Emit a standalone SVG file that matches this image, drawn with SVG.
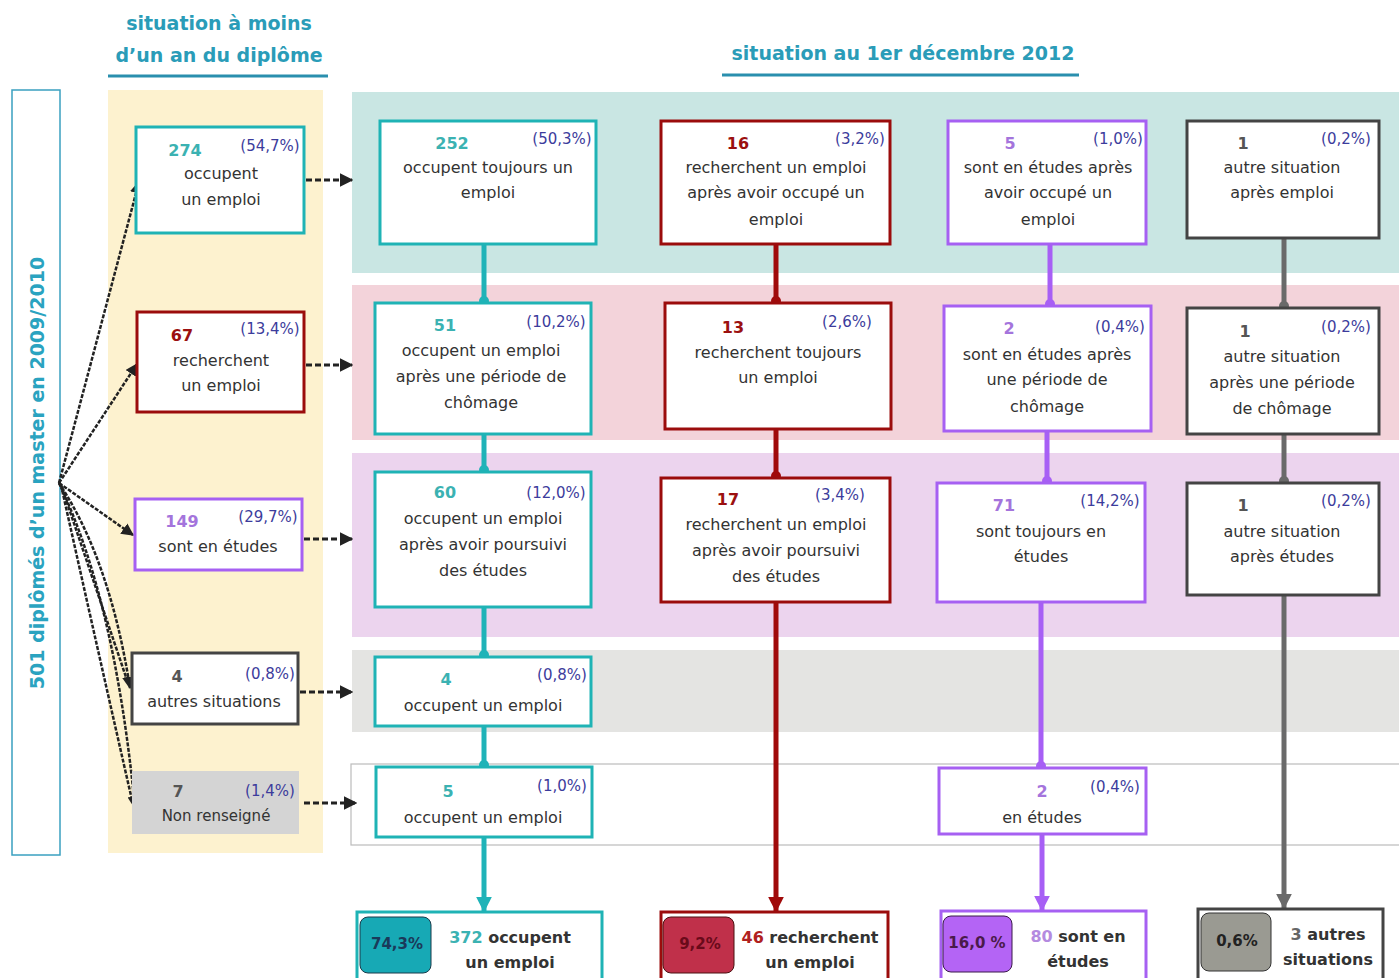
<svg xmlns="http://www.w3.org/2000/svg" width="1399" height="978" viewBox="0 0 1399 978">
<defs>
<style>
text{font-family:"DejaVu Sans","Liberation Sans",sans-serif;}
.hd{font-size:19px;font-weight:bold;fill:#2a9cb8;text-anchor:middle;}
.t{font-size:16px;fill:#333;text-anchor:middle;}
.p{font-size:15px;fill:#3c3c9c;text-anchor:middle;}
.nt{font-size:16px;font-weight:bold;fill:#3bb2b2;text-anchor:middle;}
.nr{font-size:16px;font-weight:bold;fill:#9b1010;text-anchor:middle;}
.np{font-size:16px;font-weight:bold;fill:#a474dc;text-anchor:middle;}
.ng{font-size:16px;font-weight:bold;fill:#555;text-anchor:middle;}
.bt{font-size:16px;font-weight:bold;fill:#333;text-anchor:middle;}
.bx{fill:#fff;stroke-width:3;}
.teal{stroke:#1fb3b5;}
.red{stroke:#9b0c0c;}
.pur{stroke:#a660f2;}
.gry{stroke:#444;}
.cT{stroke:#1fb3b8;stroke-width:5;fill:none;}
.cR{stroke:#a00a0a;stroke-width:5;fill:none;}
.cP{stroke:#a75ff5;stroke-width:5;fill:none;}
.cG{stroke:#6a6a6a;stroke-width:5;fill:none;}
.fan{stroke:#222;stroke-width:2.5;stroke-dasharray:4 1.5;fill:none;}
.dsh{stroke:#222;stroke-width:3;stroke-dasharray:6 3;fill:none;}
</style>
<marker id="ah" viewBox="0 0 10 10" refX="9" refY="5" markerWidth="5" markerHeight="5" orient="auto"><path d="M0,0 L10,5 L0,10 z" fill="#222"/></marker>
<marker id="ahs" viewBox="0 0 10 10" refX="9" refY="5" markerWidth="4.5" markerHeight="4.5" orient="auto"><path d="M0,0 L10,5 L0,10 z" fill="#222"/></marker>
<marker id="aT" viewBox="0 0 10 10" refX="9" refY="5" markerWidth="3.2" markerHeight="3.2" orient="auto"><path d="M0,0 L10,5 L0,10 z" fill="#1fb3b8"/></marker>
<marker id="aR" viewBox="0 0 10 10" refX="9" refY="5" markerWidth="3.2" markerHeight="3.2" orient="auto"><path d="M0,0 L10,5 L0,10 z" fill="#a00a0a"/></marker>
<marker id="aP" viewBox="0 0 10 10" refX="9" refY="5" markerWidth="3.2" markerHeight="3.2" orient="auto"><path d="M0,0 L10,5 L0,10 z" fill="#a75ff5"/></marker>
<marker id="aG" viewBox="0 0 10 10" refX="9" refY="5" markerWidth="3.2" markerHeight="3.2" orient="auto"><path d="M0,0 L10,5 L0,10 z" fill="#6a6a6a"/></marker>
<marker id="dT" viewBox="0 0 10 10" refX="5" refY="5" markerWidth="2" markerHeight="2"><circle cx="5" cy="5" r="5" fill="#1fb3b8"/></marker>
<marker id="dR" viewBox="0 0 10 10" refX="5" refY="5" markerWidth="2" markerHeight="2"><circle cx="5" cy="5" r="5" fill="#a00a0a"/></marker>
<marker id="dP" viewBox="0 0 10 10" refX="5" refY="5" markerWidth="2" markerHeight="2"><circle cx="5" cy="5" r="5" fill="#a75ff5"/></marker>
<marker id="dG" viewBox="0 0 10 10" refX="5" refY="5" markerWidth="2" markerHeight="2"><circle cx="5" cy="5" r="5" fill="#6a6a6a"/></marker>
</defs>
<rect width="1399" height="978" fill="#fff"/>

<g id="headers">
<text class="hd" x="219" y="30">situation à moins</text>
<text class="hd" x="219" y="62">d’un an du diplôme</text>
<line x1="108" y1="76" x2="328" y2="76" stroke="#2a8fae" stroke-width="3"/>
<text class="hd" x="903" y="60">situation au 1er décembre 2012</text>
<line x1="722" y1="75" x2="1079" y2="75" stroke="#2a8fae" stroke-width="3"/>
</g>

<g id="backgrounds">
<rect x="108" y="90" width="215" height="763" fill="#fdf2cf"/>
<rect x="352" y="92" width="1047" height="181" fill="#c9e6e3"/>
<rect x="352" y="285" width="1047" height="155" fill="#f3d3da"/>
<rect x="352" y="453" width="1047" height="184" fill="#ecd4ee"/>
<rect x="352" y="650" width="1047" height="82" fill="#e4e4e2"/>
<rect x="351" y="764" width="1060" height="81" fill="#fff" stroke="#bbb" stroke-width="1.2"/>
</g>

<g id="total">
<rect x="12" y="90" width="48" height="765" fill="#fff" stroke="#3aa0c0" stroke-width="1.5"/>
<text transform="translate(44,473) rotate(-90)" style="font-size:19px;font-weight:bold;fill:#2aa3c0;text-anchor:middle">501 diplômés d’un master en 2009/2010</text>
</g>

<g id="connectors">
<path class="fan" d="M59,483 L139,182" marker-end="url(#ah)"/>
<path class="fan" d="M59,483 L137,364" marker-end="url(#ah)"/>
<path class="fan" d="M59,483 L133,535" marker-end="url(#ah)"/>
<path class="fan" d="M59,483 Q110,560 130,688" marker-end="url(#ah)"/>
<path class="fan" d="M59,483 Q115,600 135,808" marker-end="url(#ah)"/>
<path class="fan" d="M61,485 Q100,600 128,683"/>
<path class="fan" d="M61,485 Q100,660 132,800"/>
<path class="dsh" d="M306,180 L352,180" marker-end="url(#ahs)"/>
<path class="dsh" d="M306,365 L352,365" marker-end="url(#ahs)"/>
<path class="dsh" d="M304,539 L352,539" marker-end="url(#ahs)"/>
<path class="dsh" d="M300,692 L352,692" marker-end="url(#ahs)"/>
<path class="dsh" d="M304,803 L356,803" marker-end="url(#ahs)"/>
<path class="cT" d="M484,245 L484,301" marker-end="url(#dT)"/>
<path class="cT" d="M484,435 L484,470" marker-end="url(#dT)"/>
<path class="cT" d="M484,608 L484,655" marker-end="url(#dT)"/>
<path class="cT" d="M484,727 L484,765" marker-end="url(#dT)"/>
<path class="cT" d="M484,838 L484,911" marker-end="url(#aT)"/>
<path class="cR" d="M776,245 L776,301" marker-end="url(#dR)"/>
<path class="cR" d="M776,430 L776,476" marker-end="url(#dR)"/>
<path class="cR" d="M776,603 L776,911" marker-end="url(#aR)"/>
<path class="cP" d="M1050,245 L1050,304" marker-end="url(#dP)"/>
<path class="cP" d="M1047,432 L1047,481" marker-end="url(#dP)"/>
<path class="cP" d="M1041,603 L1041,766" marker-end="url(#dP)"/>
<path class="cP" d="M1042,835 L1042,910" marker-end="url(#aP)"/>
<path class="cG" d="M1284,239 L1284,306" marker-end="url(#dG)"/>
<path class="cG" d="M1284,435 L1284,481" marker-end="url(#dG)"/>
<path class="cG" d="M1284,596 L1284,908" marker-end="url(#aG)"/>
</g>

<g id="n274"><rect class="bx teal" x="136" y="127" width="168" height="106"/>
<text class="nt" x="185" y="156">274</text><text class="p" x="270" y="151">(54,7%)</text>
<text class="t" x="221" y="179">occupent</text><text class="t" x="221" y="205">un emploi</text></g>
<g id="n67"><rect class="bx red" x="137" y="312" width="167" height="100"/>
<text class="nr" x="182" y="341">67</text><text class="p" x="270" y="334">(13,4%)</text>
<text class="t" x="221" y="366">recherchent</text><text class="t" x="221" y="391">un emploi</text></g>
<g id="n149"><rect class="bx pur" x="135" y="499" width="167" height="71"/>
<text class="np" x="182" y="527">149</text><text class="p" x="268" y="522">(29,7%)</text>
<text class="t" x="218" y="552">sont en études</text></g>
<g id="n4"><rect class="bx gry" x="132" y="653" width="166" height="71"/>
<text class="ng" x="177" y="682">4</text><text class="p" x="270" y="679">(0,8%)</text>
<text class="t" x="214" y="707">autres situations</text></g>
<g id="n7"><rect x="132" y="771" width="167" height="63" fill="#d4d4d4"/>
<text class="ng" x="178" y="797">7</text><text class="p" x="270" y="796">(1,4%)</text>
<text class="t" x="216" y="821" style="font-size:15px">Non renseigné</text></g>

<g id="a1"><rect class="bx teal" x="380" y="121" width="216" height="123"/>
<text class="nt" x="452" y="149">252</text><text class="p" x="562" y="144">(50,3%)</text>
<text class="t" x="488" y="173">occupent  toujours un</text><text class="t" x="488" y="198">emploi</text></g>
<g id="a2"><rect class="bx teal" x="375" y="303" width="216" height="131"/>
<text class="nt" x="445" y="331">51</text><text class="p" x="556" y="327">(10,2%)</text>
<text class="t" x="481" y="356">occupent  un emploi</text><text class="t" x="481" y="382">après une période de</text><text class="t" x="481" y="408">chômage</text></g>
<g id="a3"><rect class="bx teal" x="375" y="472" width="216" height="135"/>
<text class="nt" x="445" y="498">60</text><text class="p" x="556" y="498">(12,0%)</text>
<text class="t" x="483" y="524">occupent  un emploi</text><text class="t" x="483" y="550">après avoir poursuivi</text><text class="t" x="483" y="576">des études</text></g>
<g id="a4"><rect class="bx teal" x="375" y="657" width="216" height="69"/>
<text class="nt" x="446" y="685">4</text><text class="p" x="562" y="680">(0,8%)</text>
<text class="t" x="483" y="711">occupent  un emploi</text></g>
<g id="a5"><rect class="bx teal" x="376" y="767" width="216" height="70"/>
<text class="nt" x="448" y="797">5</text><text class="p" x="562" y="791">(1,0%)</text>
<text class="t" x="483" y="823">occupent  un emploi</text></g>

<g id="b1"><rect class="bx red" x="661" y="121" width="229" height="123"/>
<text class="nr" x="738" y="149">16</text><text class="p" x="860" y="144">(3,2%)</text>
<text class="t" x="776" y="173">recherchent un emploi</text><text class="t" x="776" y="198">après avoir occupé un</text><text class="t" x="776" y="225">emploi</text></g>
<g id="b2"><rect class="bx red" x="665" y="303" width="226" height="126"/>
<text class="nr" x="733" y="333">13</text><text class="p" x="847" y="327">(2,6%)</text>
<text class="t" x="778" y="358">recherchent toujours</text><text class="t" x="778" y="383">un emploi</text></g>
<g id="b3"><rect class="bx red" x="661" y="478" width="229" height="124"/>
<text class="nr" x="728" y="505">17</text><text class="p" x="840" y="500">(3,4%)</text>
<text class="t" x="776" y="530">recherchent un emploi</text><text class="t" x="776" y="556">après avoir poursuivi</text><text class="t" x="776" y="582">des études</text></g>

<g id="c1"><rect class="bx pur" x="948" y="121" width="198" height="123"/>
<text class="np" x="1010" y="149">5</text><text class="p" x="1118" y="144">(1,0%)</text>
<text class="t" x="1048" y="173">sont en études après</text><text class="t" x="1048" y="198">avoir occupé un</text><text class="t" x="1048" y="225">emploi</text></g>
<g id="c2"><rect class="bx pur" x="944" y="306" width="207" height="125"/>
<text class="np" x="1009" y="334">2</text><text class="p" x="1120" y="332">(0,4%)</text>
<text class="t" x="1047" y="360">sont en études après</text><text class="t" x="1047" y="385">une période de</text><text class="t" x="1047" y="412">chômage</text></g>
<g id="c3"><rect class="bx pur" x="937" y="483" width="208" height="119"/>
<text class="np" x="1004" y="511">71</text><text class="p" x="1110" y="506">(14,2%)</text>
<text class="t" x="1041" y="537">sont toujours en</text><text class="t" x="1041" y="562">études</text></g>
<g id="c4"><rect class="bx pur" x="939" y="768" width="207" height="66"/>
<text class="np" x="1042" y="797">2</text><text class="p" x="1115" y="792">(0,4%)</text>
<text class="t" x="1042" y="823">en études</text></g>

<g id="d1"><rect class="bx gry" x="1187" y="121" width="192" height="117"/>
<text class="ng" x="1243" y="149">1</text><text class="p" x="1346" y="144">(0,2%)</text>
<text class="t" x="1282" y="173">autre situation</text><text class="t" x="1282" y="198">après emploi</text></g>
<g id="d2"><rect class="bx gry" x="1187" y="308" width="192" height="126"/>
<text class="ng" x="1245" y="337">1</text><text class="p" x="1346" y="332">(0,2%)</text>
<text class="t" x="1282" y="362">autre situation</text><text class="t" x="1282" y="388">après une période</text><text class="t" x="1282" y="414">de chômage</text></g>
<g id="d3"><rect class="bx gry" x="1187" y="483" width="192" height="112"/>
<text class="ng" x="1243" y="511">1</text><text class="p" x="1346" y="506">(0,2%)</text>
<text class="t" x="1282" y="537">autre situation</text><text class="t" x="1282" y="562">après études</text></g>

<g id="tA"><rect class="bx teal" x="357" y="912" width="245" height="80"/>
<rect x="360" y="917" width="71" height="56" rx="8" fill="#17a9b5" stroke="#1a3a4a" stroke-width="1"/>
<text x="397" y="949" style="font-size:15px;font-weight:bold;fill:#1a3a5a;text-anchor:middle">74,3%</text>
<text class="bt" x="510" y="943"><tspan fill="#3bb2b2">372</tspan> occupent</text>
<text class="bt" x="510" y="968">un emploi</text></g>
<g id="tB"><rect class="bx red" x="661" y="912" width="227" height="80"/>
<rect x="663" y="917" width="71" height="56" rx="8" fill="#c0304a" stroke="#4a1010" stroke-width="1"/>
<text x="700" y="949" style="font-size:15px;font-weight:bold;fill:#6a0a1a;text-anchor:middle">9,2%</text>
<text class="bt" x="810" y="943"><tspan fill="#b02020">46</tspan> recherchent</text>
<text class="bt" x="810" y="968">un emploi</text></g>
<g id="tC"><rect class="bx pur" x="941" y="911" width="205" height="80"/>
<rect x="943" y="916" width="69" height="56" rx="8" fill="#b464f5" stroke="#3a1a4a" stroke-width="1"/>
<text x="977" y="948" style="font-size:15px;font-weight:bold;fill:#4a1a4a;text-anchor:middle">16,0 %</text>
<text class="bt" x="1078" y="942"><tspan fill="#b48ae0">80</tspan> sont en</text>
<text class="bt" x="1078" y="967">études</text></g>
<g id="tD"><rect class="bx gry" x="1198" y="909" width="185" height="80"/>
<rect x="1201" y="913" width="70" height="58" rx="8" fill="#9a9a92" stroke="#333" stroke-width="1"/>
<text x="1237" y="946" style="font-size:15px;font-weight:bold;fill:#222;text-anchor:middle">0,6%</text>
<text class="bt" x="1328" y="940"><tspan fill="#666">3</tspan> autres</text>
<text class="bt" x="1328" y="965">situations</text></g>
</svg>
